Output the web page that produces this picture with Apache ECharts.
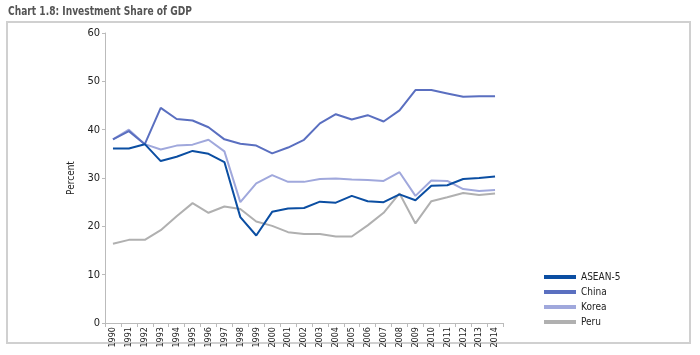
<!DOCTYPE html>
<html>
<head>
<meta charset="utf-8">
<script src="https://cdn.jsdelivr.net/npm/echarts@6/dist/echarts.min.js"></script>
<style>html,body{margin:0;padding:0;background:#fff}#c{width:700px;height:355px}</style>
</head>
<body>
<div id="c"></div>
<script>
const years = ['1990','1991','1992','1993','1994','1995','1996','1997','1998','1999','2000','2001','2002','2003','2004','2005','2006','2007','2008','2009','2010','2011','2012','2013','2014'];
const asean5 = [36.1,36.1,37.0,33.5,34.4,35.6,35.0,33.3,21.9,18.1,23.0,23.7,23.8,25.1,24.9,26.3,25.2,25.0,26.6,25.4,28.4,28.5,29.8,30.0,30.3];
const china  = [38.0,39.7,37.0,44.5,42.2,41.9,40.5,38.0,37.1,36.7,35.1,36.3,37.9,41.3,43.2,42.1,43.0,41.7,44.0,48.2,48.2,47.5,46.8,46.9,46.9];
const korea  = [38.0,40.0,37.0,35.9,36.7,36.9,37.9,35.5,25.0,28.9,30.6,29.2,29.2,29.8,29.9,29.7,29.6,29.4,31.2,26.3,29.5,29.4,27.7,27.3,27.5];
const peru   = [16.4,17.2,17.2,19.2,22.1,24.8,22.8,24.1,23.6,21.0,20.1,18.8,18.4,18.4,17.9,17.9,20.2,22.8,26.8,20.6,25.2,26.0,26.9,26.5,26.8];
const seriesNames = ['ASEAN-5','China','Korea','Peru'];
const colors = ['#0b4ea2','#5a6fc0','#a0a8dc','#b0b0b0'];
const yTicks = {min:0, max:60, interval:10};
const titleText = 'Chart 1.8: Investment Share of GDP';

const font = 'DejaVu Sans Condensed';
const chart = echarts.init(document.getElementById('c'), null, {renderer:'canvas'});
const data = [asean5, china, korea, peru];
chart.setOption({
  animation:false,
  graphic:[
    {type:'rect', shape:{x:7, y:22, width:683, height:321},
      style:{fill:'none', stroke:'#d0d0d0', lineWidth:2}, z:-1},
    {type:'text', x:8, y:5, scaleX:0.81,
      style:{text:titleText, font:'bold 12.5px "DejaVu Sans Condensed"', fill:'#555', verticalAlign:'top'}}
  ],
  grid:{left:105, right:197, top:33, bottom:32, containLabel:false},
  legend:{orient:'vertical', left:539, top:266, icon:'rect', itemWidth:32, itemHeight:4, itemGap:3,
    textStyle:{fontFamily:font, fontSize:10, color:'#222', lineHeight:12},
    data:seriesNames},
  xAxis:{type:'category', data:years, boundaryGap:true,
    axisLine:{lineStyle:{color:'#bbb', width:1}},
    axisTick:{show:true, interval:0, length:4, lineStyle:{color:'#bbb'}},
    axisLabel:{interval:0, rotate:90, fontFamily:font, fontSize:9, color:'#222', margin:4}},
  yAxis:{type:'value', min:yTicks.min, max:yTicks.max, interval:yTicks.interval,
    name:'Percent', nameLocation:'middle', nameGap:20, nameRotate:90,
    nameTextStyle:{fontFamily:font, fontSize:10, color:'#222'},
    axisLine:{show:true, lineStyle:{color:'#bbb', width:1}},
    axisTick:{show:true, length:3, lineStyle:{color:'#bbb'}},
    splitLine:{show:false},
    axisLabel:{fontFamily:font, fontSize:11, color:'#222', margin:5}},
  series: seriesNames.map((n,i)=>({name:n, type:'line', data:data[i], symbol:'none',
    lineStyle:{color:colors[i], width:2}, itemStyle:{color:colors[i]}, z:10-i}))
});
</script>
</body>
</html>
